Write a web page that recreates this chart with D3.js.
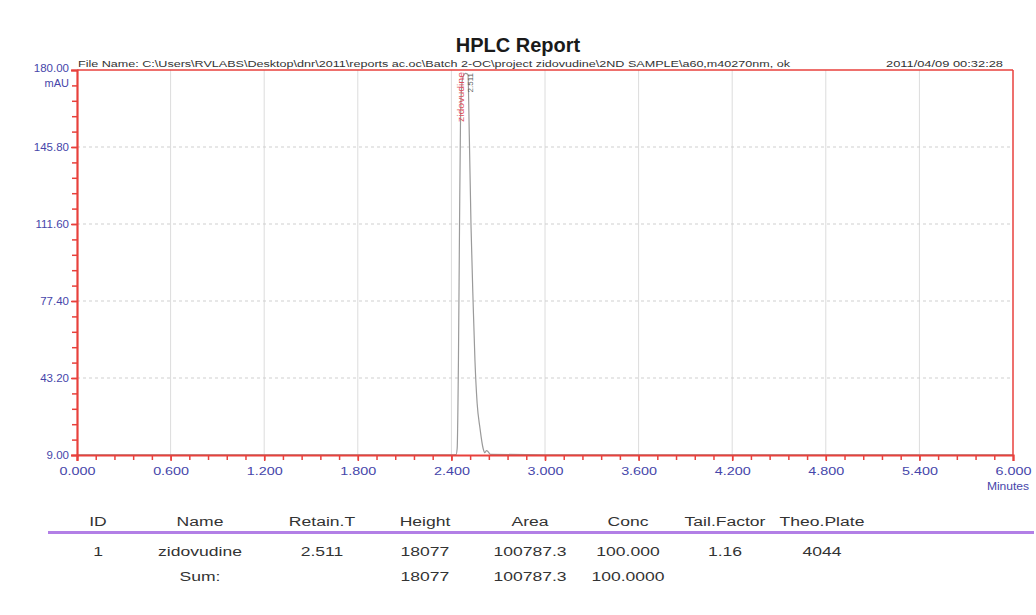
<!DOCTYPE html>
<html><head><meta charset="utf-8">
<script src="https://cdn.jsdelivr.net/npm/d3@7"></script>
<style>
body{margin:0;background:#fff;}
svg{display:block;font-family:"Liberation Sans",Arial,sans-serif;}
</style></head>
<body><svg id="c" width="1036" height="615"></svg>
<script>
// ---- data ----
const title = "HPLC Report";
const fileName = "File Name: C:\\Users\\RVLABS\\Desktop\\dnr\\2011\\reports ac.oc\\Batch 2-OC\\project zidovudine\\2ND SAMPLE\\a60,m40270nm, ok";
const runDate = "2011/04/09 00:32:28";
const xTicks = [0, 0.6, 1.2, 1.8, 2.4, 3.0, 3.6, 4.2, 4.8, 5.4, 6.0];
const yTicks = [9.00, 43.20, 77.40, 111.60, 145.80, 180.00];
const times  = [0, 1.0, 2.0, 2.40, 2.430, 2.437, 2.445, 2.452, 2.458, 2.465, 2.475, 2.490, 2.506, 2.515, 2.526, 2.540, 2.551, 2.565, 2.583, 2.603, 2.615, 2.625, 2.635, 2.650, 3.0, 4.0, 5.0, 6.0];
const signal = [9.1, 9.1, 9.1, 9.1, 9.2, 12, 50, 110, 155, 172, 177, 178.5, 178, 150, 110, 75, 51, 32, 21, 12, 10, 11, 10.5, 9.3, 9.1, 9.1, 9.1, 9.1];
const peakName = "zidovudine";
const peakTime = 2.511;
const tableHeaders = ["ID", "Name", "Retain.T", "Height", "Area", "Conc", "Tail.Factor", "Theo.Plate"];
const row1 = ["1", "zidovudine", "2.511", "18077", "100787.3", "100.000", "1.16", "4044"];
const row2 = ["", "Sum:", "", "18077", "100787.3", "100.0000", "", ""];

// ---- layout ----
const svg = d3.select("#c");
const L = 77, R = 1013, T = 70, B = 455;
const x = d3.scaleLinear().domain([0, 6]).range([L, R]);
const y = d3.scaleLinear().domain([9, 180]).range([B, T]);
const red = "#e8413c", blue = "#4646aa";

svg.append("text").attr("x", 518).attr("y", 52).attr("text-anchor", "middle")
  .attr("font-size", 20).attr("font-weight", "bold").attr("fill", "#1a1a1a").text(title);

// grid
svg.append("g").selectAll("line").data(xTicks.slice(1, -1)).join("line")
  .attr("x1", d => x(d)).attr("x2", d => x(d)).attr("y1", T).attr("y2", B)
  .attr("stroke", "#dcdcdc").attr("stroke-width", 1);
svg.append("g").selectAll("line").data(yTicks.slice(1, -1)).join("line")
  .attr("x1", L).attr("x2", R).attr("y1", d => y(d)).attr("y2", d => y(d))
  .attr("stroke", "#cfcfcf").attr("stroke-width", 1).attr("stroke-dasharray", "3,3");

// trace
svg.append("defs").append("clipPath").attr("id", "clip").append("rect")
  .attr("x", L).attr("y", T).attr("width", R - L).attr("height", B - T);
const pts = times.map((t, i) => [t, signal[i]]);
svg.append("path").datum(pts).attr("clip-path", "url(#clip)")
  .attr("fill", "none").attr("stroke", "#9a9a9a").attr("stroke-width", 1.2)
  .attr("d", d3.line().x(d => x(d[0])).y(d => y(d[1])).curve(d3.curveMonotoneX));

// borders
svg.append("line").attr("x1", L).attr("x2", R).attr("y1", T).attr("y2", T).attr("stroke", red).attr("stroke-width", 1.5);
svg.append("line").attr("x1", R).attr("x2", R).attr("y1", T).attr("y2", B).attr("stroke", red).attr("stroke-width", 1.5);

// minor ticks
const xMinor = d3.range(0, 50).map(i => i * 0.12).filter(v => v <= 6.0001);
const yMinor = d3.range(0, 26).map(i => 9 + i * 6.84);
const gxm = svg.append("g").attr("transform", `translate(0,${B})`)
  .call(d3.axisBottom(x).tickValues(xMinor).tickSize(5).tickFormat(""));
const gym = svg.append("g").attr("transform", `translate(${L},0)`)
  .call(d3.axisLeft(y).tickValues(yMinor).tickSize(5).tickFormat(""));
[gxm, gym].forEach(g => { g.select(".domain").remove(); g.selectAll("line").attr("stroke", red).attr("stroke-width", 1.5); });

// major axes
const gx = svg.append("g").attr("transform", `translate(0,${B})`)
  .call(d3.axisBottom(x).tickValues(xTicks).tickSize(6).tickPadding(6).tickFormat(d3.format(".3f")));
const gy = svg.append("g").attr("transform", `translate(${L},0)`)
  .call(d3.axisLeft(y).tickValues(yTicks).tickSize(6).tickPadding(2).tickFormat(d3.format(".2f")));
[gx, gy].forEach(g => {
  g.select(".domain").attr("stroke", red).attr("stroke-width", 2.2);
  g.selectAll("line").attr("stroke", red).attr("stroke-width", 1.5);
  g.selectAll("text").attr("fill", blue).attr("font-family", "Liberation Sans, Arial, sans-serif");
});
gy.selectAll("text").attr("font-size", 11.5);
gy.selectAll(".tick").filter(d => d === 180).select("text").attr("dy", "0.1em");
gx.selectAll(".tick text").attr("font-size", 11.5).attr("transform", "scale(1.25,1)");
svg.append("text").attr("x", 69).attr("y", 87).attr("text-anchor", "end").attr("fill", blue).attr("font-size", 11).text("mAU");
svg.append("g").attr("transform", "translate(1008,490) scale(1.15,1)")
  .append("text").attr("text-anchor", "middle").attr("fill", blue).attr("font-size", 10.5).text("Minutes");

// header texts
svg.append("text").attr("x", 78).attr("y", 67).attr("fill", "#333").attr("font-size", 8.5)
  .attr("textLength", 712).attr("lengthAdjust", "spacingAndGlyphs").text(fileName);
svg.append("text").attr("x", 886).attr("y", 67).attr("fill", "#333").attr("font-size", 8.5)
  .attr("textLength", 117).attr("lengthAdjust", "spacingAndGlyphs").text(runDate);

// peak labels
svg.append("text").attr("transform", `translate(${x(peakTime) - 5},${T + 52}) rotate(-90)`)
  .attr("fill", "#e0505c").attr("font-size", 8.5)
  .attr("textLength", 50).attr("lengthAdjust", "spacingAndGlyphs").text(peakName);
svg.append("text").attr("transform", `translate(${x(peakTime) + 4},${T + 3}) rotate(-90)`)
  .attr("text-anchor", "end").attr("fill", "#555").attr("font-size", 8).text(peakTime.toFixed(3));

// table
const colX = [98, 200, 322, 425, 530, 628, 725, 822];
const tb = svg.append("g").attr("font-size", 13.5).attr("fill", "#333").attr("text-anchor", "middle");
function row(data, yy) {
  tb.append("g").selectAll("g").data(data).join("g")
    .attr("transform", (d, i) => `translate(${colX[i]},${yy}) scale(1.3,1)`)
    .append("text").text(d => d);
}
row(tableHeaders, 526);
svg.append("line").attr("x1", 48).attr("x2", 1034).attr("y1", 532.5).attr("y2", 532.5)
  .attr("stroke", "#b27fe6").attr("stroke-width", 3);
row(row1, 556);
row(row2, 581);
</script></body></html>
